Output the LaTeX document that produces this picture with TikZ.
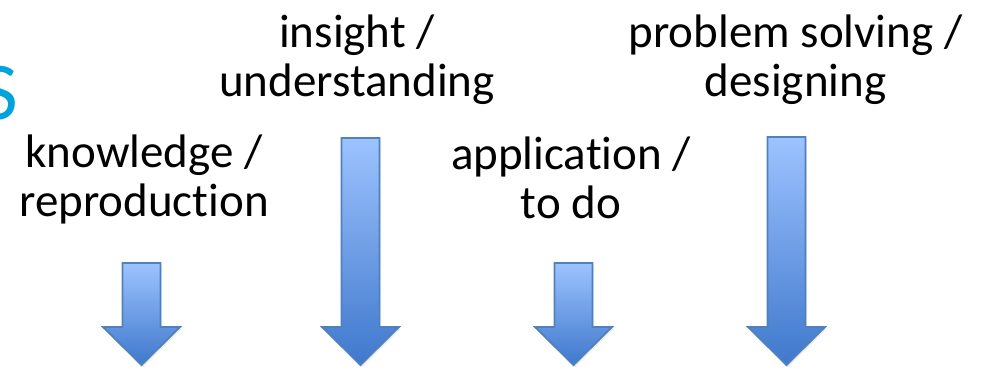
\documentclass[tikz,border=0pt]{standalone}
\usepackage{fontspec}
\setmainfont{Carlito}[Ligatures={NoCommon,NoContextual}]
\usepackage{tikz}
\usetikzlibrary{shadows}

\definecolor{baslikmavi}{HTML}{00A3DC}
\definecolor{okust}{HTML}{9DC3FF}
\definecolor{okalt}{HTML}{3F78CC}
\definecolor{okkenar}{HTML}{4F81BD}

\tikzset{
  seviye/.style={font=\fontsize{47}{49}\selectfont, align=center, inner sep=0pt, anchor=base},
  okstil/.style={draw=okkenar, line width=1.8pt, top color=okust, bottom color=okalt,
    drop shadow={opacity=0.15, shadow xshift=1.5pt, shadow yshift=-2pt}}
}

\begin{document}
\begin{tikzpicture}[x=1pt,y=-1pt]
  \useasboundingbox (0,0) rectangle (982,371);

  % soldan taşan başlık harfi
  \node[font=\fontsize{82}{82}\selectfont, text=baslikmavi, inner sep=0pt, anchor=base east] (baslik) at (18,120) {S};

  % Her sütun: etiket x / son satırın taban çizgisi / etiket / ok x / okun üst ucu
  \foreach \lx/\by/\etiket/\ox/\ust [count=\i] in {
    144/217/{knowledge /\\reproduction}/141.5/263,
    357/97/{insight /\\understanding}/360.5/138,
    571/219/{application /\\to do}/573.5/263,
    795.5/97/{problem solving /\\designing}/786.5/137
  }{
    % seviye etiketi
    \node[seviye] (etiket\i) at (\lx,\by) {\etiket};

    % aşağı ok (gövde 38, baş 77 genişliğinde)
    \coordinate (ok\i) at (\ox,\ust);
    \draw[okstil] (\ox-19,\ust) -- (\ox+19,\ust) -- (\ox+19,327) -- (\ox+38.5,327)
      -- (\ox,365) -- (\ox-38.5,327) -- (\ox-19,327) -- cycle;
  }

\end{tikzpicture}
\end{document}
